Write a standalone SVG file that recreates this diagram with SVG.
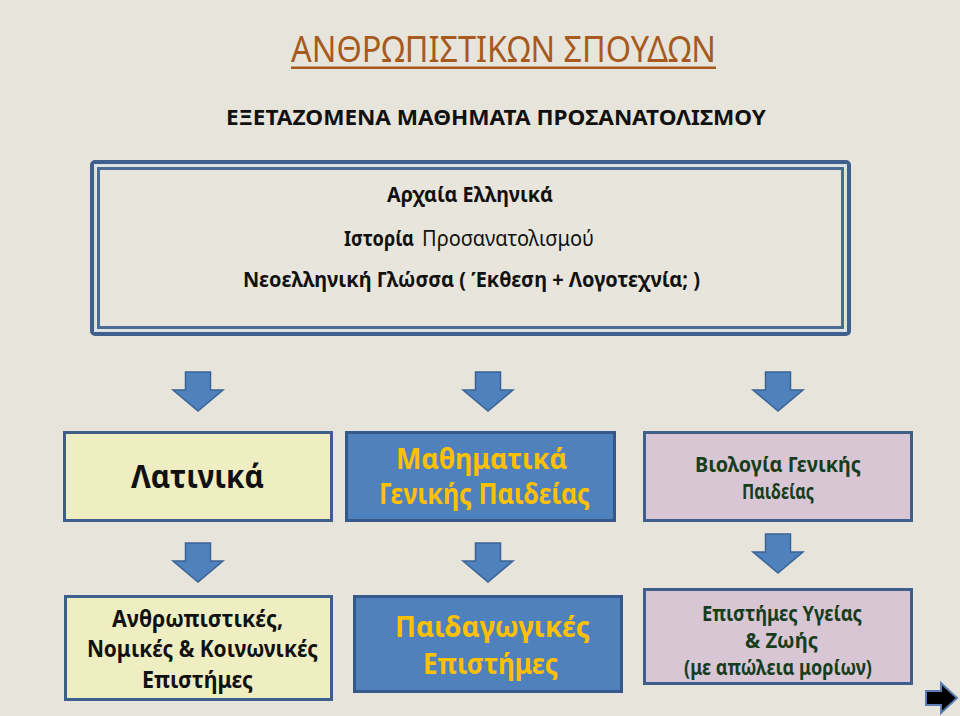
<svg xmlns="http://www.w3.org/2000/svg" width="960" height="716" viewBox="0 0 960 716">
<defs>
<style>
text{font-family:"Noto Sans","Open Sans","DejaVu Sans",sans-serif;text-anchor:middle}
.b{font-weight:bold}
.n{font-weight:normal}
.k{fill:#111}
.g{fill:#FFC000}
.dg{fill:#173D1C}
.y{fill:#EFEDC2;stroke:#3E5F8C;stroke-width:3}
.bl{fill:#4F81BD;stroke:#34598A;stroke-width:3}
.lv{fill:#D9C6D5;stroke:#3E5F8C;stroke-width:3}
.arr{fill:#4F81BD;stroke:#3A6396;stroke-width:1.5}
</style>
<path id="da" d="M-12.5 0H12.5V18H25L0 39L-25 18H-12.5Z"/>
</defs>
<rect width="960" height="716" fill="#E7E5DB"/>
<g id="title">
<text x="503.5" y="62" font-size="37" fill="#A65A1E" textLength="425" lengthAdjust="spacingAndGlyphs" class="n">ΑΝΘΡΩΠΙΣΤΙΚΩΝ ΣΠΟΥΔΩΝ</text>
<rect x="291" y="66.5" width="425" height="2.5" fill="#A65A1E"/>
</g>
<g id="subtitle">
<text x="496" y="125" font-size="22" class="b k" textLength="540" lengthAdjust="spacingAndGlyphs">ΕΞΕΤΑΖΟΜΕΝΑ ΜΑΘΗΜΑΤΑ ΠΡΟΣΑΝΑΤΟΛΙΣΜΟΥ</text>
</g>
<g id="exam-subjects">
<rect x="92" y="162" width="757" height="172" rx="3" fill="#E7E5DB" stroke="#3F5F8C" stroke-width="4"/>
<rect x="95" y="165" width="751" height="166" fill="none" stroke="#DCE0E6" stroke-width="2"/>
<rect x="98.5" y="168.5" width="744" height="159" fill="#E8E6DC" stroke="#4A6B96" stroke-width="3"/>
<text x="470" y="202" font-size="22" class="b k" textLength="166" lengthAdjust="spacingAndGlyphs">Αρχαία Ελληνικά</text>
<text x="379" y="246" font-size="22" class="b k" textLength="70" lengthAdjust="spacingAndGlyphs">Ιστορία</text>
<text x="508" y="246" font-size="22" class="n k" textLength="172" lengthAdjust="spacingAndGlyphs">Προσανατολισμού</text>
<text x="471.5" y="287" font-size="22" class="b k" textLength="457" lengthAdjust="spacingAndGlyphs">Νεοελληνική Γλώσσα ( Έκθεση + Λογοτεχνία; )</text>
</g>
<g id="connectors">
<use href="#da" x="198" y="372" class="arr"/>
<use href="#da" x="488" y="372" class="arr"/>
<use href="#da" x="778" y="372" class="arr"/>
<use href="#da" x="198" y="543" class="arr"/>
<use href="#da" x="488" y="543" class="arr"/>
<use href="#da" x="778" y="534" class="arr"/>
</g>
<g id="latin">
<rect x="64.5" y="432.5" width="267" height="88" class="y"/>
<text x="197.5" y="488" font-size="33" class="b k" textLength="133" lengthAdjust="spacingAndGlyphs">Λατινικά</text>
</g>
<g id="math">
<rect x="346.5" y="432.5" width="268" height="88" class="bl"/>
<text x="481.5" y="469" font-size="28" class="b g" textLength="171" lengthAdjust="spacingAndGlyphs">Μαθηματικά</text>
<text x="484.5" y="504" font-size="28" class="b g" textLength="211" lengthAdjust="spacingAndGlyphs">Γενικής Παιδείας</text>
</g>
<g id="biology">
<rect x="644.5" y="432.5" width="267" height="88" class="lv"/>
<text x="778" y="472" font-size="21" class="b dg" textLength="166" lengthAdjust="spacingAndGlyphs">Βιολογία Γενικής</text>
<text x="778" y="499" font-size="21" class="b dg" textLength="72" lengthAdjust="spacingAndGlyphs">Παιδείας</text>
</g>
<g id="humanities">
<rect x="65.5" y="596.5" width="266" height="103" class="y"/>
<text x="197.5" y="627" font-size="23" class="b k" textLength="171" lengthAdjust="spacingAndGlyphs">Ανθρωπιστικές,</text>
<text x="202.5" y="657" font-size="23" class="b k" textLength="231" lengthAdjust="spacingAndGlyphs">Νομικές &amp; Κοινωνικές</text>
<text x="197.5" y="688" font-size="23" class="b k" textLength="111" lengthAdjust="spacingAndGlyphs">Επιστήμες</text>
</g>
<g id="pedagogy">
<rect x="354.5" y="596.5" width="267" height="95" class="bl"/>
<text x="492.5" y="637" font-size="29" class="b g" textLength="195" lengthAdjust="spacingAndGlyphs">Παιδαγωγικές</text>
<text x="490.5" y="674" font-size="29" class="b g" textLength="135" lengthAdjust="spacingAndGlyphs">Επιστήμες</text>
</g>
<g id="health">
<rect x="644.5" y="589.5" width="267" height="94" class="lv"/>
<text x="782" y="621" font-size="21" class="b dg" textLength="160" lengthAdjust="spacingAndGlyphs">Επιστήμες Υγείας</text>
<text x="781.5" y="648" font-size="21" class="b dg" textLength="73" lengthAdjust="spacingAndGlyphs">&amp; Ζωής</text>
<text x="778" y="675" font-size="21" class="b dg" textLength="188" lengthAdjust="spacingAndGlyphs">(με απώλεια μορίων)</text>
</g>
<g id="next-button">
<path d="M926 691H941V683L957 698L941 713V705H926Z" fill="#000" stroke="#5B7DB1" stroke-width="2"/>
</g>
</svg>
